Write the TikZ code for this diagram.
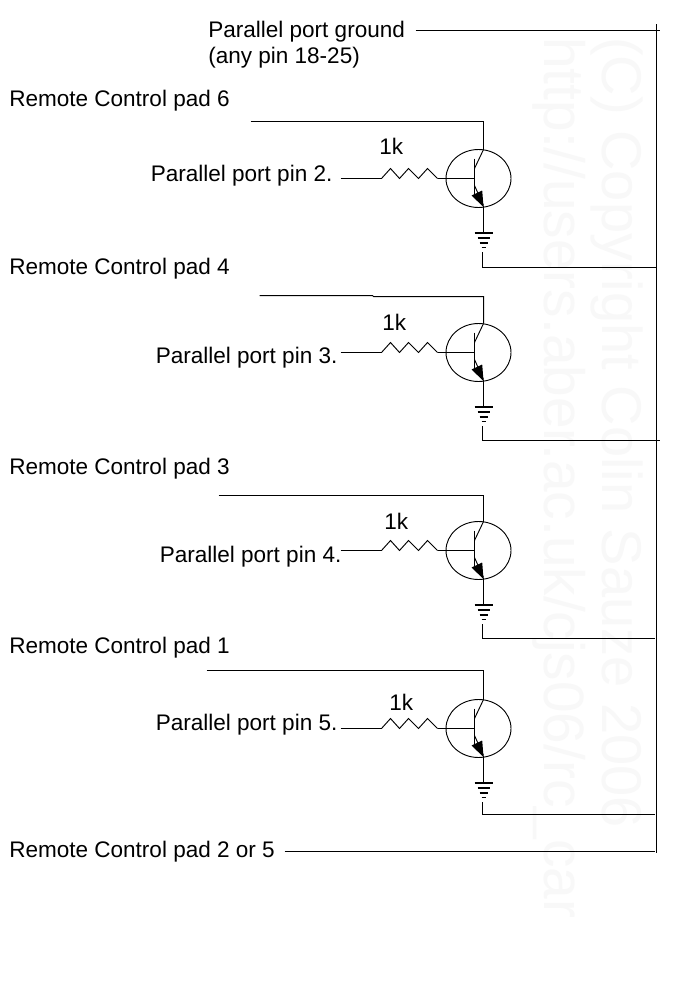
\documentclass[tikz,border=0pt]{standalone}
\usepackage{fontspec}
\setmainfont{Liberation Sans}
\definecolor{wm}{gray}{0.972}
\tikzset{
  x=0.75pt,y=-0.75pt,
  wire/.style={line width=0.75pt,black},
  thin wire/.style={line width=0.7pt,black},
  bar/.style={line width=1.2pt,black},
  lbl/.style={font=\fontsize{16.9pt}{19pt}\selectfont,inner sep=0pt,anchor=base west,align=left},
  wmark/.style={text=wm,rotate=-90,inner sep=0pt,anchor=base west},
}
\newcommand{\stage}[6]{%
 % #1 id, #2 dy, #3 start of the collector wire (local path), #4 its y, #5 return y, #6 return end x
 \begin{scope}[yshift=-#2*0.75pt]
  \coordinate (in#1) at (340,178);
  \coordinate (rs#1) at (381,178);
  \coordinate (re#1) at (437,178);
  \coordinate (b#1) at (474,178);
  \coordinate (c#1) at (483,149);
  \coordinate (e#1) at (483,205);
  \coordinate (g#1) at (483,232);
  \coordinate (gb#1) at (482,251.5);
  \coordinate (gc#1) at (482,#5-#2);
  \draw[thin wire] (478,178) ellipse [x radius=32.5,y radius=29];
  \draw[wire] (in#1) -- (rs#1);
  \draw[thin wire] (rs#1) -- (390,168) -- (399,178) -- (408,168) -- (418,178) -- (427,168) -- (re#1);
  \draw[wire] (re#1) -- (b#1);
  \draw[wire] (474,158) -- (474,195);
  \draw[thin wire] (474,168) -- (c#1);
  \draw[thin wire] (474,185) -- (e#1);
  \fill (483,206.5) -- (471,195) -- (481.7,190) -- cycle;
  \draw[wire] (e#1) -- (g#1);
  \draw[bar] (474,232.5) -- (492,232.5);
  \draw[bar] (477,237.5) -- (489,237.5);
  \draw[bar] (479,242.5) -- (487,242.5);
  \draw[bar] (481,247) -- (485,247);
  \draw[wire] (gb#1) -- (gc#1) -- (#6,#5-#2);
  \draw[wire] #3 -- (483,#4-#2) -- (c#1);
 \end{scope}}
\begin{document}
\begin{tikzpicture}
\useasboundingbox (0,0) rectangle (698,1006);
\fill[white] (0,0) rectangle (698,1006);
\node[wmark,font=\fontsize{42pt}{42pt}\selectfont] (w1) at (602,37) {(C) Copyright Colin Sauze 2006};
\node[wmark,font=\fontsize{42.6pt}{42pt}\selectfont] (w2) at (544,37) {http://users.aber.ac.uk/cjs06/rc\_car};
\begin{scope}[shift={(0.5,0.5)}]
\stage{a}{0}{(250,121)}{121}{267}{656}
\stage{b}{174}{(259,121) -- (372,121) -- (373,122)}{296}{440}{659}
\stage{c}{372}{(218,123)}{495}{638}{654}
\stage{d}{550}{(206,120)}{670}{814}{654}
\coordinate (gt) at (415,30);
\coordinate (gr) at (659,30);
\coordinate (pb) at (284,851);
\coordinate (pe) at (654,851);
\coordinate (v1) at (656,24);
\coordinate (v2) at (656,852);
\draw[wire] (gt) -- (gr);
\draw[wire] (pb) -- (pe);
\draw[wire] (v1) -- (v2);
\end{scope}
\node[lbl] (t0) at (208,37.5) {Parallel port ground};
\node[lbl] (t0b) at (208,63.5) {(any pin 18-25)};
\node[lbl] (p6) at (9,106) {Remote Control pad 6};
\node[lbl] (p4) at (9,274.5) {Remote Control pad 4};
\node[lbl] (p3) at (9,474.5) {Remote Control pad 3};
\node[lbl] (p1) at (9,653) {Remote Control pad 1};
\node[lbl] (p2) at (9,857) {Remote Control pad 2 or 5};
\node[lbl] (k1) at (379,154) {1k};
\node[lbl] (k2) at (382,330) {1k};
\node[lbl] (k3) at (384,529) {1k};
\node[lbl] (k4) at (389,710) {1k};
\node[lbl] (q2) at (150.5,181) {Parallel port pin 2.};
\node[lbl] (q3) at (155.5,363) {Parallel port pin 3.};
\node[lbl] (q4) at (159.5,562.5) {Parallel port pin 4.};
\node[lbl] (q5) at (155.5,730) {Parallel port pin 5.};
\end{tikzpicture}
\end{document}
